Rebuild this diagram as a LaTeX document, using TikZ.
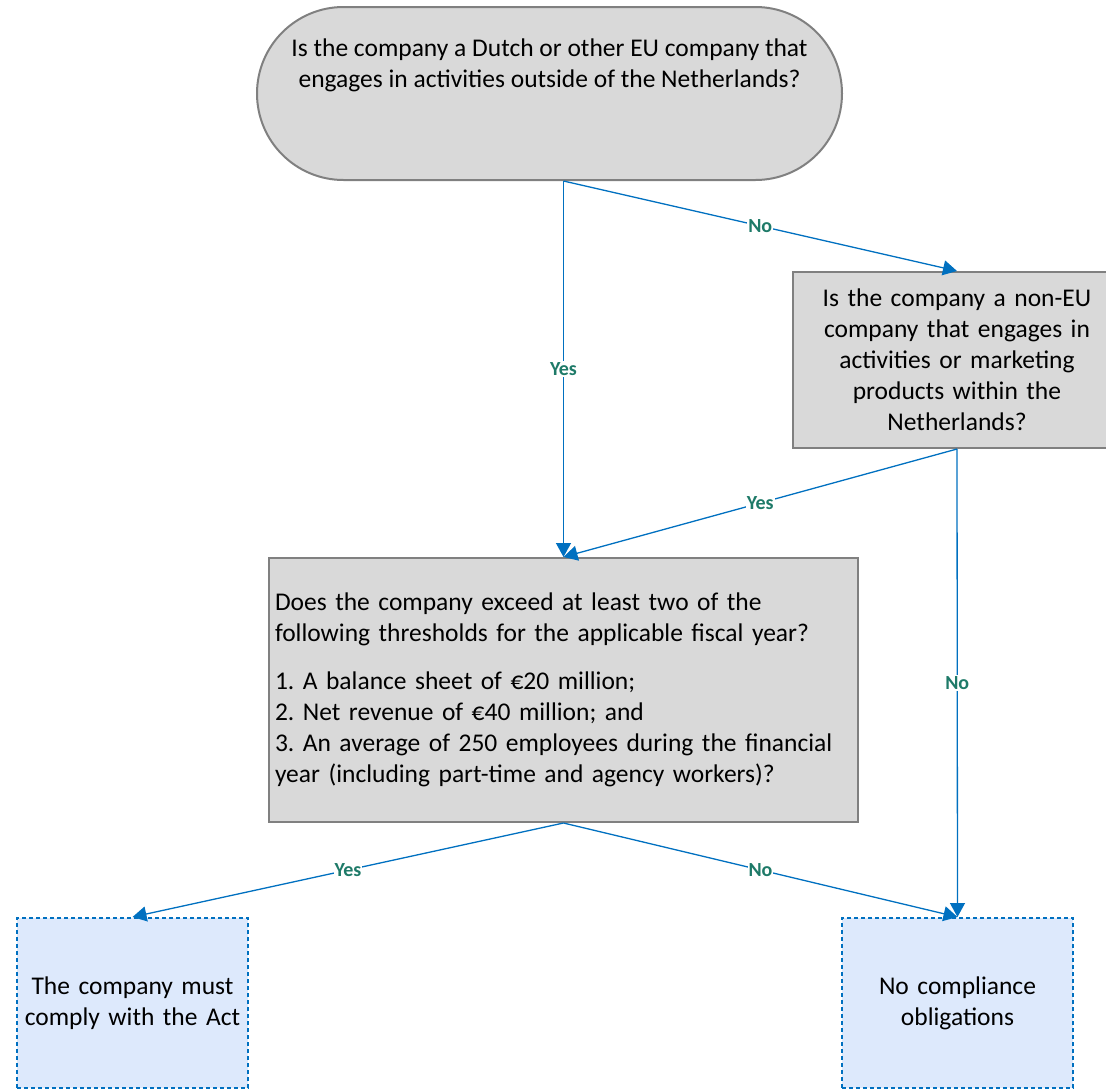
\documentclass[tikz,border=0pt]{standalone}
\usepackage{fontspec}
\setmainfont{Carlito}
\usetikzlibrary{shapes.misc, arrows.meta}
\definecolor{boxgray}{RGB}{217, 217, 217}
\definecolor{edgegray}{RGB}{128, 128, 128}
\definecolor{flowblue}{RGB}{0, 112, 192}
\definecolor{answergreen}{RGB}{30, 122, 104}
\definecolor{outcomeblue}{RGB}{221, 233, 252}
\newcommand{\qfont}{\fontsize{25.5}{31}\selectfont\frenchspacing}
\tikzset{
    terminator/.style={rounded rectangle, draw=edgegray, fill=boxgray, line width=2pt, minimum width=585pt, minimum height=173pt, inner sep=0pt},
    question/.style={rectangle, draw=edgegray, fill=boxgray, line width=2pt, inner sep=6pt, font=\qfont},
    outcome/.style={rectangle, draw=flowblue, fill=outcomeblue, line width=2pt, dash pattern=on 4pt off 3pt, minimum width=231pt, minimum height=170pt, text width=222pt, align=center, font=\qfont},
    flow/.style={draw=flowblue, line width=1.3pt, -{Triangle[length=14pt, width=15pt]}},
    answer/.style={fill=white, inner sep=1pt, font=\bfseries\fontsize{20}{22}\selectfont, text=answergreen}
}

\begin{document}
\begin{tikzpicture}[x=1pt, y=-1pt]
    \useasboundingbox (0,0) rectangle (1106,1090);

    \node (start) [terminator] at (549.5,93.5) {};
    \node (starttext) [font=\qfont, align=center] at ([yshift=28pt]start.center) {Is the company a Dutch or other EU company that\\engages in activities outside of the Netherlands?};
    \node (nonEU) [question, minimum width=328pt, minimum height=176pt, text width=300pt, align=center] at (957,360) {Is the company a non-EU\\company that engages in\\activities or marketing\\products within the\\Netherlands?};
    \node (thresh) [question, minimum height=264pt, text width=577pt, align=left] at (563.5,690) {Does the company exceed at least two of the\\following thresholds for the applicable fiscal year?\\[17pt]
        1. A balance sheet of €20 million;\\
        2. Net revenue of €40 million; and\\
        3. An average of 250 employees during the financial\\year (including part-time and agency workers)?};
    \node (comply) [outcome] at (132.5,1003) {The company must\\comply with the Act};
    \node (exempt) [outcome] at (957.5,1003) {No compliance\\obligations};

    \coordinate (split) at (start.south -| thresh.north);
    \draw [flow] (split) -- node [answer] {Yes} (thresh.north);
    \draw [flow] (split) -- node [answer] {No} (nonEU.north);
    \draw [flow] (nonEU.south) -- node [answer] {Yes} (thresh.north);
    \draw [flow] (nonEU.south) -- node [answer] {No} (exempt.north);
    \draw [flow] (thresh.south) -- node [answer] {Yes} (comply.north);
    \draw [flow] (thresh.south) -- node [answer] {No} (exempt.north);
\end{tikzpicture}
\end{document}
